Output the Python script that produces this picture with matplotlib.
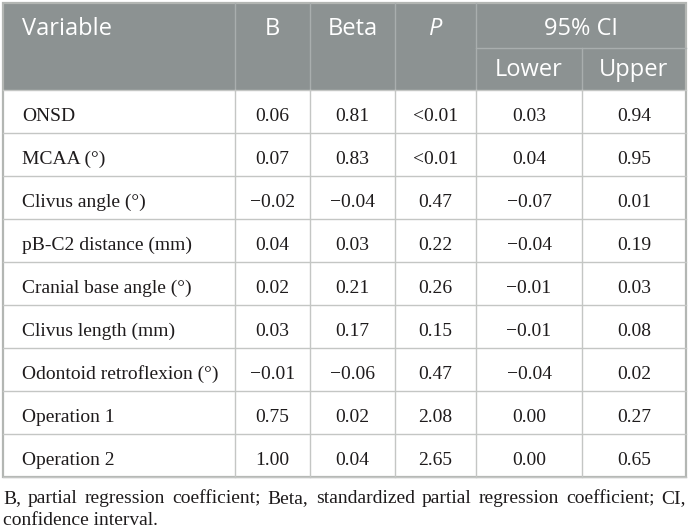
import matplotlib
matplotlib.use("Agg")
import matplotlib.pyplot as plt
from matplotlib.patches import Rectangle

# ---------------- datos ----------------
variables = ["ONSD", "MCAA (°)", "Clivus angle (°)", "pB-C2 distance (mm)",
             "Cranial base angle (°)", "Clivus length (mm)",
             "Odontoid retroflexion (°)", "Operation 1", "Operation 2"]
b_vals = ["0.06", "0.07", "\u22120.02", "0.04", "0.02", "0.03", "\u22120.01", "0.75", "1.00"]
beta_vals = ["0.81", "0.83", "\u22120.04", "0.03", "0.21", "0.17", "\u22120.06", "0.02", "0.04"]
p_vals = ["<0.01", "<0.01", "0.47", "0.22", "0.26", "0.15", "0.47", "2.08", "2.65"]
lower_vals = ["0.03", "0.04", "\u22120.07", "\u22120.04", "\u22120.01", "\u22120.01", "\u22120.04", "0.00", "0.00"]
upper_vals = ["0.94", "0.95", "0.01", "0.19", "0.03", "0.08", "0.02", "0.27", "0.65"]
footnote_l1 = "B, partial regression coefficient; Beta, standardized partial regression coefficient; CI,"
footnote_l2 = "confidence interval."

# ---------------- layout (pixeles) ----------------
W, H = 690, 529
col_edges = [3, 235, 310, 395, 476, 582, 686]
top, head_mid, head_bot = 3, 48, 90
row_h = 43
header_bg = "#8c9292"
grid_c = "#c4c6c4"
head_line = "#a9aeae"
txt_c = "#1e1b1c"
serif = "Liberation Serif"
sans = "Open Sans"

fig = plt.figure(figsize=(W / 100, H / 100), dpi=100)
ax = fig.add_axes([0, 0, 1, 1])
ax.set_xlim(0, W)
ax.set_ylim(H, 0)
ax.axis("off")

n = len(variables)
bottom = head_bot + n * row_h

# cabecera
ax.add_patch(Rectangle((col_edges[0], top), col_edges[-1] - col_edges[0], head_bot - top,
                       facecolor=header_bg, edgecolor="none"))
for x in col_edges[1:5]:
    ax.plot([x, x], [top, head_bot], color=head_line, lw=1)
ax.plot([col_edges[4], col_edges[6]], [head_mid, head_mid], color=head_line, lw=1)
ax.plot([col_edges[5], col_edges[5]], [head_mid, head_bot], color=head_line, lw=1)

hs = 17
ax.text(22, 35, "Variable", fontsize=hs, family=sans, color="white", va="baseline")
for i, lab in enumerate(["B", "Beta"]):
    ax.text((col_edges[i + 1] + col_edges[i + 2]) / 2, 35, lab, fontsize=hs, family=sans,
            color="white", ha="center", va="baseline")
ax.text((col_edges[3] + col_edges[4]) / 2, 35, "P", fontsize=hs, family=sans, style="italic",
        color="white", ha="center", va="baseline")
ax.text((col_edges[4] + col_edges[6]) / 2, 35, "95% CI", fontsize=hs, family=sans,
        color="white", ha="center", va="baseline")
ax.text((col_edges[4] + col_edges[5]) / 2, 76, "Lower", fontsize=hs, family=sans,
        color="white", ha="center", va="baseline")
ax.text((col_edges[5] + col_edges[6]) / 2, 76, "Upper", fontsize=hs, family=sans,
        color="white", ha="center", va="baseline")

# cuerpo
for k in range(n + 1):
    y = head_bot + k * row_h
    ax.plot([col_edges[0], col_edges[-1]], [y, y], color=grid_c, lw=1)
for x in col_edges[1:-1]:
    ax.plot([x, x], [head_bot, bottom], color=grid_c, lw=1)

cols = [b_vals, beta_vals, p_vals, lower_vals, upper_vals]
bs = 14
for r in range(n):
    yb = head_bot + r * row_h + 31
    ax.text(22, yb, variables[r], fontsize=bs, family=serif, color=txt_c, va="baseline")
    for c, vals in enumerate(cols):
        xc = (col_edges[c + 1] + col_edges[c + 2]) / 2
        ax.text(xc, yb, vals[r], fontsize=bs, family=serif, color=txt_c,
                ha="center", va="baseline")

# borde exterior
ax.add_patch(Rectangle((col_edges[0], top), col_edges[-1] - col_edges[0], bottom - top,
                       facecolor="none", edgecolor="#b3b6b3", lw=1.6))

# nota al pie, primera linea justificada
words = footnote_l1.split(" ")
fig.canvas.draw()
renderer = fig.canvas.get_renderer()
inv = ax.transData.inverted()
arts = []
widths = []
for w in words:
    t = ax.text(0, 503, w, fontsize=bs, family=serif, color=txt_c, va="baseline")
    bb = t.get_window_extent(renderer)
    arts.append(t)
    widths.append(inv.transform((bb.x1, 0))[0] - inv.transform((bb.x0, 0))[0])
gap = (col_edges[-1] - col_edges[0] - sum(widths)) / (len(words) - 1)
x = col_edges[0]
for t, w in zip(arts, widths):
    t.set_x(x)
    x += w + gap
ax.text(col_edges[0], 525, footnote_l2, fontsize=bs, family=serif, color=txt_c,
        va="baseline")

fig.savefig("out.png", dpi=100)
